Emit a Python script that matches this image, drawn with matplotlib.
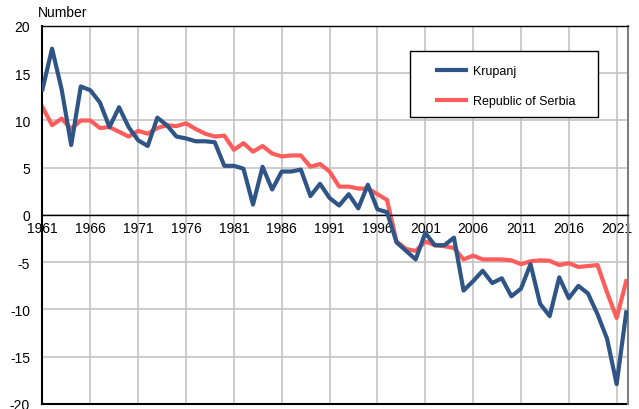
import matplotlib.pyplot as plt
from matplotlib.patches import Rectangle

plt.rcParams['font.family'] = ['Liberation Sans', 'DejaVu Sans']
plt.rcParams['axes.unicode_minus'] = False

years = list(range(1961, 2023))

krupanj = [13.3, 17.6, 13.3, 7.4, 13.6, 13.2, 11.9, 9.3, 11.4, 9.3,
           7.9, 7.3, 10.3, 9.5, 8.3, 8.1, 7.8, 7.8, 7.7, 5.2,
           5.2, 4.9, 1.1, 5.1, 2.7, 4.6, 4.6, 4.8, 2.0, 3.3,
           1.8, 1.0, 2.2, 0.7, 3.2, 0.6, 0.3, -2.9, -3.8, -4.7,
           -1.9, -3.2, -3.2, -2.4, -8.0, -7.0, -5.9, -7.2, -6.7, -8.6,
           -7.8, -5.2, -9.4, -10.7, -6.6, -8.8, -7.5, -8.3, -10.5, -13.1,
           -17.9, -10.3]

serbia = [11.4, 9.5, 10.2, 9.1, 10.0, 10.0, 9.2, 9.3, 8.8, 8.3,
          8.9, 8.6, 9.2, 9.5, 9.4, 9.7, 9.1, 8.6, 8.3, 8.4,
          6.9, 7.6, 6.7, 7.3, 6.5, 6.2, 6.3, 6.3, 5.1, 5.4,
          4.6, 3.0, 3.0, 2.8, 2.8, 2.2, 1.6, -2.8, -3.6, -3.8,
          -2.8, -3.2, -3.3, -3.5, -4.7, -4.3, -4.7, -4.7, -4.7, -4.8,
          -5.2, -4.9, -4.8, -4.85, -5.3, -5.1, -5.5, -5.4, -5.3, -8.2,
          -10.9, -7.0]

xticks = list(range(1961, 2022, 5))
yticks = list(range(-20, 21, 5))

fig = plt.figure(figsize=(6.39, 4.10), dpi=100)
ax = fig.add_axes([0.0665, 0.0122, 0.9165, 0.922])

ax.plot(years, krupanj, color='#2f5586', lw=3.0, label='Krupanj', zorder=3)
ax.plot(years, serbia, color='#ff5c5c', lw=3.0, label='Republic of Serbia', zorder=2)

ax.set_xlim(1961, 2022.2)
ax.set_ylim(-20, 20)
ax.set_xticks(xticks)
ax.set_yticks(yticks)
ax.grid(True, color='#c4c4c4', lw=1.2)
ax.set_axisbelow(True)

# x labels sit on the zero line
ax.spines['bottom'].set_position(('data', 0))
ax.spines['bottom'].set_color('black')
ax.spines['bottom'].set_linewidth(1.0)
ax.axhline(-20, color='black', lw=1.5, clip_on=False)
ax.spines['left'].set_linewidth(1.5)
ax.spines['top'].set_linewidth(1.0)
ax.spines['right'].set_color('#808080')
ax.spines['right'].set_linewidth(1.5)

ax.tick_params(axis='both', length=0, labelsize=10)
ax.tick_params(axis='x', pad=4)
ax.tick_params(axis='y', pad=9)

# legend box drawn separately so the entries can sit further in
ax.add_patch(Rectangle((0.628, 0.759), 0.321, 0.175, transform=ax.transAxes,
                       facecolor='white', edgecolor='black', lw=1.0, zorder=5))
ax.legend(loc='upper left', bbox_to_anchor=(0.674, 0.897), frameon=False,
          fontsize=9, handlelength=2.3, handletextpad=0.55,
          labelspacing=1.45, borderpad=0, borderaxespad=0).set_zorder(6)

fig.text(38 / 639, 1 - 13 / 410, 'Number', fontsize=10, va='center')

fig.savefig('out.png', dpi=100)
